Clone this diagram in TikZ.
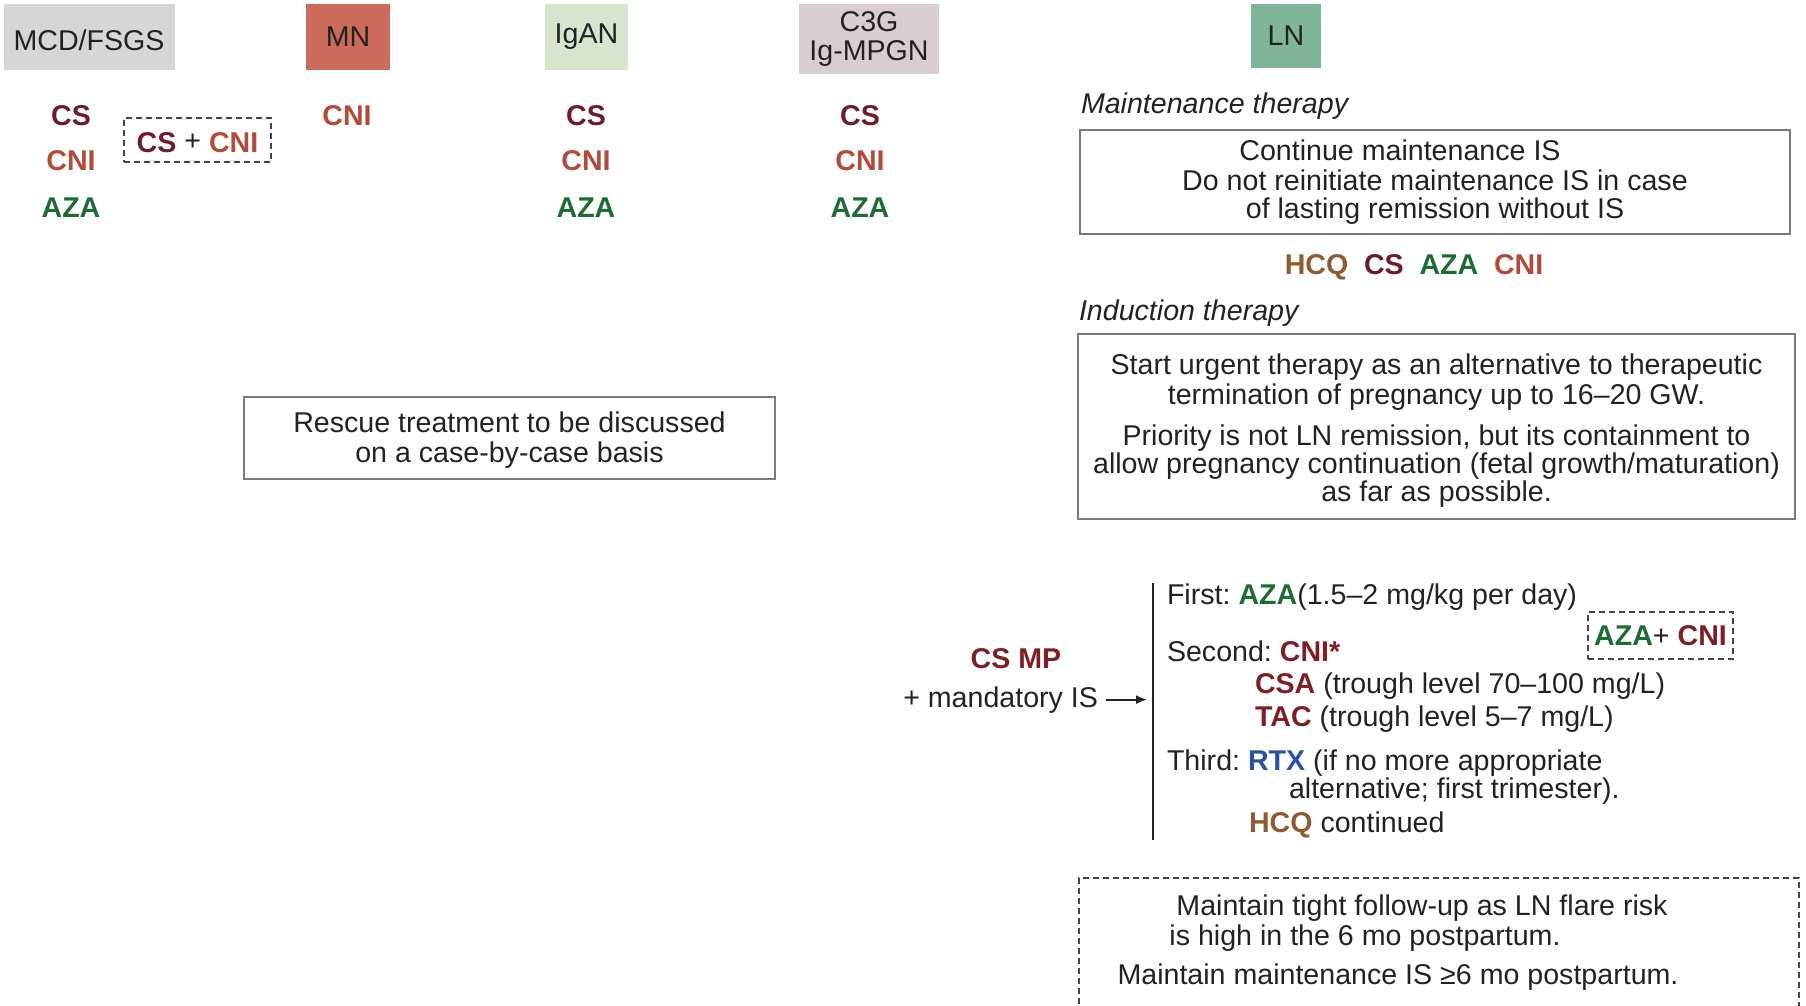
\documentclass[tikz,border=0pt]{standalone}
\usepackage{fontspec}
\setmainfont{Liberation Sans}
\usetikzlibrary{arrows.meta}
\definecolor{txt}{HTML}{222222}
\definecolor{mcdc}{HTML}{D6D6D6}
\definecolor{mnc}{HTML}{CC6B5B}
\definecolor{igac}{HTML}{D8E5CE}
\definecolor{c3gc}{HTML}{D8CDD1}
\definecolor{lnc}{HTML}{7FB598}
\definecolor{csc}{HTML}{6B1D2A}
\definecolor{cnic}{HTML}{B44A3C}
\definecolor{azac}{HTML}{1E6B35}
\definecolor{hcqc}{HTML}{8E5B33}
\definecolor{rtxc}{HTML}{2B52A0}
\definecolor{tacc}{HTML}{7D1F24}
\definecolor{boxc}{HTML}{7A7A7A}
\definecolor{dashc}{HTML}{444444}
\newcommand\myfs{\fontsize{28.6}{30}\selectfont}
\frenchspacing
\begin{document}
\begin{tikzpicture}[x=1pt,y=-1pt,
  every node/.style={font=\myfs, text=txt, inner sep=0pt, outer sep=0pt},
  hdr/.style={rectangle, align=center},
  drug/.style={anchor=base, font=\myfs\bfseries},
  solidbox/.style={draw=boxc, line width=1.5pt, align=center},
  dashbox/.style={draw=dashc, line width=1.8pt, dash pattern=on 6pt off 4pt},
  lbl/.style={anchor=base west},
  cline/.style={anchor=base},
  arr/.style={line width=1.8pt, -{Latex[length=11pt,width=9pt]}}]
\useasboundingbox (0,0) rectangle (1806,1005);

% headers
\node[hdr, fill=mcdc, minimum width=171, minimum height=66] (mcd) at (89,37) {\raisebox{-3pt}[\height][0pt]{MCD/FSGS}};
\node[hdr, fill=mnc, minimum width=84, minimum height=66] (mn) at (348,37) {MN};
\node[hdr, fill=igac, minimum width=83, minimum height=66] (igan) at (586.5,37) {IgAN};
\node[hdr, fill=c3gc, minimum width=140, minimum height=70] (c3g) at (869,39) {C3G\\[-1pt]Ig-MPGN};
\node[hdr, fill=lnc, minimum width=70, minimum height=64] (ln) at (1286,35.5) {LN};

% MCD/FSGS
\node[drug, text=csc] (mcdcs) at (71,125) {CS};
\node[drug, text=cnic] (mcdcni) at (71,170) {CNI};
\node[drug, text=azac] (mcdaza) at (71,217) {AZA};
\node[dashbox, minimum width=147, minimum height=44] (mcdcomb) at (197.5,140)
  {\raisebox{-3pt}[\height][0pt]{{\bfseries\color{csc}CS} \raisebox{2pt}{+} {\bfseries\color{cnic}CNI}}};

% MN
\node[drug, text=cnic] (mncni) at (347,125) {CNI};

% IgAN
\node[drug, text=csc] (igcs) at (586,125) {CS};
\node[drug, text=cnic] (igcni) at (586,170) {CNI};
\node[drug, text=azac] (igaza) at (586,217) {AZA};

% C3G
\node[drug, text=csc] (c3cs) at (860,125) {CS};
\node[drug, text=cnic] (c3cni) at (860,170) {CNI};
\node[drug, text=azac] (c3aza) at (860,217) {AZA};

% LN maintenance
\node[lbl, font=\myfs\itshape] (mainttitle) at (1081,113) {Maintenance therapy};
\node[solidbox, minimum width=710, minimum height=104] (maint) at (1435,182)
  {Continue maintenance IS\hspace*{70pt}\\Do not reinitiate maintenance IS in case\\[-2pt]of lasting remission without IS};
\node[cline, font=\myfs\bfseries] (hcqline) at (1414,274)
  {{\color{hcqc}HCQ}\hspace{0.55em}{\color{csc}CS}\hspace{0.55em}{\color{azac}AZA}\hspace{0.55em}{\color{cnic}CNI}};

% LN induction
\node[lbl, font=\myfs\itshape] (indtitle) at (1079,320) {Induction therapy};
\node[solidbox, minimum width=717, minimum height=185] (ind) at (1436.5,426.5)
  {\rule{0pt}{28pt}Start urgent therapy as an alternative to therapeutic\\termination of pregnancy up to 16–20 GW.\\[11pt]Priority is not LN remission, but its containment to\\[-2pt]allow pregnancy continuation (fetal growth/maturation)\\[-2pt]as far as possible.};

% rescue
\node[solidbox, minimum width=531, minimum height=82] (rescue) at (509.5,438)
  {\rule{0pt}{25pt}Rescue treatment to be discussed\\on a case-by-case basis};

% induction regimen
\coordinate (vtop) at (1153,583);
\coordinate (vbot) at (1153,840);
\draw[draw=txt, line width=1.8pt] (vtop) -- (vbot);
\node[anchor=center, font=\myfs\bfseries, text=tacc] (csmp) at (1016,659) {CS MP};
\node[anchor=base east] (mand) at (1098,707) {+ mandatory IS};
\draw[arr, draw=txt, fill=txt, shorten >=6pt] ([xshift=8pt]mand.east) -- (mand.east -| vtop);

\node[lbl] (first) at (1167,604) {First: {\bfseries\color{azac}AZA}(1.5–2 mg/kg per day)};
\node[dashbox, minimum width=145, minimum height=47] (azacni) at (1660.5,635.5)
  {{\bfseries\color{azac}AZA}+ {\bfseries\color{tacc}CNI}};
\node[lbl] (second) at (1167,661) {Second: {\bfseries\color{tacc}CNI*}};
\node[lbl] (csa) at (1255,693) {{\bfseries\color{tacc}CSA} (trough level 70–100 mg/L)};
\node[lbl] (tac) at (1255,726) {{\bfseries\color{tacc}TAC} (trough level 5–7 mg/L)};
\node[lbl] (third) at (1167,770) {Third: {\bfseries\color{rtxc}RTX} (if no more appropriate};
\node[lbl] (alt) at (1289,798) {alternative; first trimester).};
\node[lbl] (hcq) at (1249,832) {{\bfseries\color{hcqc}HCQ} continued};

% postpartum
\node[dashbox, minimum width=720, minimum height=200] (post) at (1439,978) {};
\node[cline] (post1) at (1422,915) {Maintain tight follow-up as LN flare risk};
\node[cline] (post2) at (1365,945) {is high in the 6 mo postpartum.};
\node[cline] (post3) at (1398,984) {Maintain maintenance IS ≥6 mo postpartum.};
\end{tikzpicture}
\end{document}
